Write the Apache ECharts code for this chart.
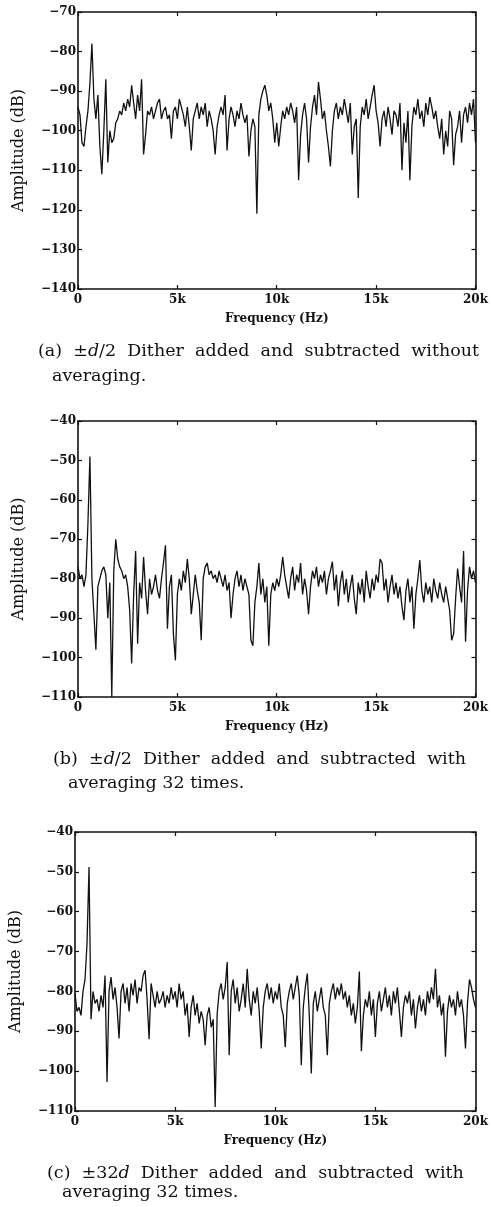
<!DOCTYPE html>
<html>
<head>
<meta charset="utf-8">
<script src="https://cdn.jsdelivr.net/npm/echarts@6/dist/echarts.min.js"></script>
<style>
html,body{margin:0;padding:0;background:#fff;}
#chart{width:491px;height:1207px;}
</style>
</head>
<body>
<div id="chart"></div>
<script>
// Spectrum bins: 0 .. 20 kHz, 100 Hz spacing (201 bins)
const binHz = 100;
const xTicks = [0, 5000, 10000, 15000, 20000];
const xTickLabels = ['0', '5k', '10k', '15k', '20k'];

// (a) ±d/2 dither, no averaging  (dB)
const ampA = [
-94,-96,-103,-104,-99,-95,-88,-78,-92,-97,
-91,-104,-111,-100,-87,-108,-100,-103,-102,-98,
-97,-95,-96,-93,-95,-92,-94,-88.5,-93,-97,
-91,-95,-87,-106,-101,-95,-96,-94,-97,-95,
-93,-92,-97,-95,-94,-97,-96,-102,-95,-94,
-97,-92,-91.5,-96,-99,-94,-99,-105,-97,-95,
-93,-97,-94,-96,-93,-99,-95,-97,-100,-106,
-99,-96,-94,-96,-91,-105,-97,-94,-96,-99,
-95,-97,-93,-96,-98,-96,-106.5,-100,-97,-99,
-121,-96,-92,-90,-88.5,-91,-95,-93,-97,-103,
-98,-104,-99,-95,-97,-94,-96,-93,-95,-98,
-94,-112.5,-101,-96,-93,-97,-108,-99,-94,-91,
-96,-87.7,-92,-97,-95,-100,-104,-109,-100,-95,
-93,-97,-94,-96,-92,-95,-98,-93,-106,-99,
-97,-117,-99,-94,-96,-92,-97,-94,-91,-88.5,
-95,-98,-104,-97,-95,-99,-94,-97,-101,-95,
-96,-99,-93,-110,-98,-103,-95,-112.5,-99,-94,
-96,-92,-97,-95,-99,-93,-96,-91.5,-94,-97,
-95,-99,-102,-97,-106,-100,-104,-95,-97,-108.7,
-101,-99,-95,-103,-96,-94,-98,-93,-96,-92,
-103
];

// (b) ±d/2 dither, averaging 32 times (dB)
const ampB = [
-77,-80,-79,-82,-79,-66,-49,-80,-89,-98,
-82,-80,-78,-77,-79,-90,-81,-110,-78,-70,
-75,-77,-78,-80,-79,-82,-88,-101.5,-84,-73,
-96.5,-81,-85,-74.5,-83,-89,-80,-84,-82,-79,
-83,-85,-80,-76,-71.5,-92.7,-82,-79,-94,-100.7,
-84,-80,-83,-78,-81,-75,-80,-89,-84,-79,
-83,-86,-95.6,-80,-77,-76,-79,-78,-80,-79,
-81,-78,-80,-82,-79,-83,-81,-90,-84,-80,
-78,-82,-79,-83,-80,-82,-84,-95.6,-97,-86,
-82,-76,-84,-80,-86,-82,-97,-84,-81,-83,
-80,-82,-79,-74.5,-79,-82,-85,-80,-77,-83,
-79,-81,-76,-84,-80,-83,-89,-82,-78,-80,
-77,-82,-79,-81,-78,-84,-80,-78,-75.7,-83,
-79,-87,-81,-78,-84,-80,-86,-82,-79,-85,
-89,-81,-84,-80,-86,-78,-82,-85,-80,-83,
-79,-81,-75,-76,-83,-80,-86,-82,-79,-84,
-81,-85,-82,-87,-90.5,-83,-80,-86,-82,-92.7,
-84,-80,-75.3,-83,-86,-81,-84,-82,-86,-80,
-83,-85,-81,-84,-86,-82,-85,-88,-95.6,-94,
-85,-77.4,-82,-86,-73,-96,-83,-77,-80,-78,
-81
];

// (c) ±32d dither, averaging 32 times (dB)
const ampC = [
-80.5,-85,-84,-86,-80,-77,-68,-48.8,-87,-80,
-83,-82,-85,-81,-84,-76,-102.7,-80,-76.4,-82,
-79,-84,-91.8,-80,-78,-83,-79,-85,-78,-81,
-77,-83,-79,-80,-76,-74.7,-82,-92,-78,-81,
-84,-80,-83,-82,-80,-84,-81,-83,-79,-82,
-80,-84,-78,-82,-80,-86,-83,-91.4,-84,-81,
-86,-83,-88,-85,-87,-93.5,-86,-84,-89,-87,
-109,-85.6,-80,-78,-82,-79,-72.6,-96,-80,-77,
-83,-79,-85,-82,-78,-84,-74.3,-82,-86,-80,
-83,-79,-85,-94.3,-84,-80,-78,-82,-79,-83,
-80,-82,-78,-84,-86,-94,-83,-80,-78,-82,
-79,-76,-81,-98.5,-84,-79,-75.5,-86,-100.6,-83,
-80,-85,-82,-79,-84,-86,-96,-83,-80,-78,
-82,-79,-81,-78,-82,-80,-84,-81,-86,-83,
-88,-84,-75,-95,-86,-82,-84,-80,-86,-82,
-91.4,-83,-80,-85,-82,-79,-84,-81,-86,-80,
-83,-79,-85,-91.4,-84,-81,-83,-80,-86,-82,
-89.3,-84,-81,-85,-82,-86,-80,-83,-79,-82,
-74.3,-84,-81,-86,-83,-96.4,-85,-81,-84,-82,
-86,-80,-84,-82,-86,-94.3,-83,-77,-79,-82,
-84
];

const yRangeA = [-140, -70];
const yRangeB = [-110, -40];
const yRangeC = [-110, -40];

// Caption pieces: label, prefix after ±, italic symbol, remainder, second line
const captionsA = ['(a)', '', 'd', '/2  Dither  added  and  subtracted  without', 'averaging.'];
const captionsB = ['(b)', '', 'd', '/2  Dither  added  and  subtracted  with', 'averaging 32 times.'];
const captionsC = ['(c)', '32', 'd', '  Dither  added  and  subtracted  with', 'averaging 32 times.'];

const INK = '#111';
const serif = 'DejaVu Serif';

function toPairs(arr){ return arr.map((v,i)=>[i*binHz, v]); }

const grids = [
  {left:78, top:12,  width:403, height:277},
  {left:78, top:421, width:403, height:276},
  {left:73, top:832, width:405, height:279}
];
const yRanges = [yRangeA, yRangeB, yRangeC];
const series = [ampA, ampB, ampC];

const xAxes = [], yAxes = [], seriesOpt = [];
grids.forEach((g, k) => {
  const common = {
    gridIndex:k, type:'value', min:0, max:20000, interval:5000,
    axisLine:{show:true, onZero:false, lineStyle:{color:INK, width:1.6}},
    axisTick:{show:true, inside:true, length:4, lineStyle:{color:INK, width:1.2}},
    splitLine:{show:false}
  };
  xAxes.push(Object.assign({}, common, {
    position:'bottom',
    name:'Frequency (Hz)', nameLocation:'middle', nameGap:24,
    nameTextStyle:{fontFamily:serif, fontWeight:'bold', fontSize:12, color:INK},
    axisLabel:{show:true, margin:5, fontFamily:serif, fontWeight:'bold', fontSize:12, color:INK,
      formatter:(v)=>{const i=xTicks.indexOf(v); return i>=0?xTickLabels[i]:'';}}
  }));
  xAxes.push(Object.assign({}, common, {position:'top', axisLabel:{show:false}}));
  const ycommon = {
    gridIndex:k, type:'value', min:yRanges[k][0], max:yRanges[k][1], interval:10,
    axisLine:{show:true, onZero:false, lineStyle:{color:INK, width:1.6}},
    axisTick:{show:true, inside:true, length:4, lineStyle:{color:INK, width:1.2}},
    splitLine:{show:false}
  };
  yAxes.push(Object.assign({}, ycommon, {
    position:'left',
    name:'Amplitude (dB)', nameLocation:'middle', nameGap:51, nameRotate:90,
    nameTextStyle:{fontFamily:serif, fontSize:16, color:INK},
    axisLabel:{show:true, margin:2, fontFamily:serif, fontWeight:'bold', fontSize:12, color:INK,
      formatter:(v)=>String(v).replace('-', '\u2212')}
  }));
  yAxes.push(Object.assign({}, ycommon, {position:'right', axisLabel:{show:false}}));
  seriesOpt.push({
    type:'line', xAxisIndex:2*k, yAxisIndex:2*k, data:toPairs(series[k]),
    showSymbol:false, symbol:'none', animation:false,
    lineStyle:{color:INK, width:1.3}
  });
});

function caption(c, x1, y1, x2, y2){
  const fs = 17.5;
  const rich = {
    n:{fontFamily:serif, fontSize:fs, color:INK},
    i:{fontFamily:serif, fontSize:fs, fontStyle:'italic', color:INK}
  };
  return [
    {type:'text', left:x1, top:y1, style:{
      text:'{n|'+c[0]+'  \u00b1'+c[1]+'}{i|'+c[2]+'}{n|'+c[3]+'}', rich:rich,
      fontFamily:serif, fontSize:fs, fill:INK}},
    {type:'text', left:x2, top:y2, style:{text:c[4], fontFamily:serif, fontSize:fs, fill:INK}}
  ];
}

const graphic = [].concat(
  caption(captionsA, 38, 342, 52, 367),
  caption(captionsB, 53, 750, 68, 774),
  caption(captionsC, 47, 1164, 62, 1183)
);

const chart = echarts.init(document.getElementById('chart'), null, {renderer:'canvas'});
chart.setOption({
  backgroundColor:'#fff',
  animation:false,
  grid:grids,
  xAxis:xAxes,
  yAxis:yAxes,
  series:seriesOpt,
  graphic:graphic
});
</script>
</body>
</html>
